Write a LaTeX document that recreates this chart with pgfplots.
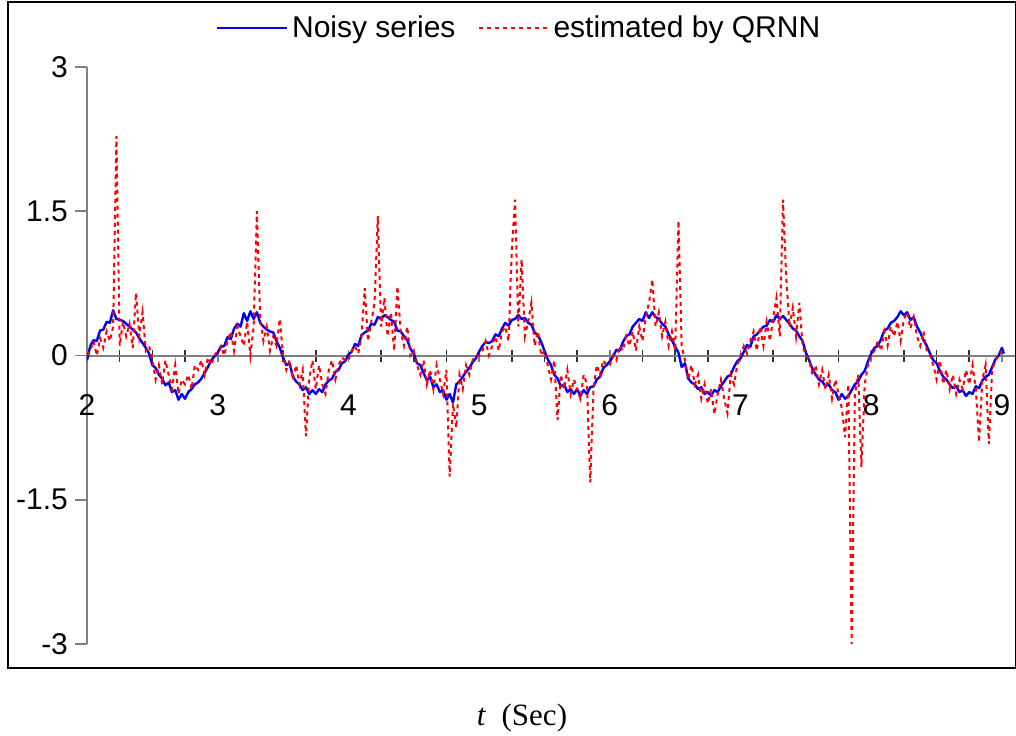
\documentclass[border=0pt]{standalone}
\usepackage{pgfplots}
\pgfplotsset{compat=1.18}
\usepackage{fontspec}
\setmainfont{Liberation Sans}
\newfontfamily\timesfont{Liberation Serif}
\definecolor{axgray}{RGB}{128,128,128}
\begin{document}
\begin{tikzpicture}
\begin{axis}[
  scale only axis,
  width=464pt, height=288.5pt,
  xmin=2, xmax=9.1, ymin=-3, ymax=3,
  axis x line=middle, axis y line=left,
  hide obscured x ticks=false, hide obscured y ticks=false,
  axis line style={-, draw=axgray, line width=1pt},
  xtick={2,3,4,5,6,7,8,9},
  xticklabels={2,3,4,5,6,7,8,9},
  minor xtick={2.25,2.5,2.75,3.25,3.5,3.75,4.25,4.5,4.75,5.25,5.5,5.75,6.25,6.5,6.75,7.25,7.5,7.75,8.25,8.5,8.75},
  ytick={-3,-1.5,0,1.5,3},
  yticklabels={-3,-1.5,0,1.5,3},
  xtick align=center, ytick align=outside,
  major tick length=6pt, minor tick length=6pt,
  tick style={draw=axgray, line width=0.8pt},
  minor tick style={draw=black!80, line width=0.8pt},
  /pgf/number format/assume math mode=true,
  tick label style={font=\fontsize{15}{18}\selectfont, text=black},
  xticklabel style={anchor=center, yshift=-22pt},
  legend style={at={(0.4666,1.0676)}, anchor=center, draw=none, fill=white,
    font=\fontsize{15}{18}\selectfont, legend columns=2,
    /tikz/every even column/.append style={column sep=9pt}},
  legend cell align=left,
  legend image code/.code={\draw[#1] (0pt,0pt) -- (35pt,0pt);},
]
\addplot[blue, line width=1.2pt, line join=round] coordinates {
(2.000,-0.05)(2.025,0.10)(2.050,0.16)(2.075,0.15)(2.100,0.26)(2.125,0.27)(2.150,0.35)(2.175,0.34)(2.200,0.47)(2.225,0.38)
(2.250,0.37)(2.275,0.36)(2.300,0.33)(2.325,0.30)(2.350,0.27)(2.375,0.24)(2.400,0.18)(2.425,0.13)(2.450,0.08)(2.475,0.02)
(2.500,-0.10)(2.525,-0.13)(2.550,-0.20)(2.575,-0.24)(2.600,-0.31)(2.625,-0.28)(2.650,-0.38)(2.675,-0.36)(2.700,-0.46)(2.725,-0.40)
(2.750,-0.45)(2.775,-0.38)(2.800,-0.35)(2.825,-0.30)(2.850,-0.28)(2.875,-0.24)(2.900,-0.18)(2.925,-0.12)(2.950,-0.05)(2.975,-0.01)
(3.000,0.03)(3.025,0.09)(3.050,0.10)(3.075,0.19)(3.100,0.17)(3.125,0.28)(3.150,0.33)(3.175,0.30)(3.200,0.44)(3.225,0.36)
(3.250,0.46)(3.275,0.38)(3.300,0.45)(3.325,0.34)(3.350,0.30)(3.375,0.27)(3.400,0.25)(3.425,0.24)(3.450,0.15)(3.475,0.08)
(3.500,-0.02)(3.525,-0.10)(3.550,-0.08)(3.575,-0.22)(3.600,-0.27)(3.625,-0.30)(3.650,-0.36)(3.675,-0.33)(3.700,-0.40)(3.725,-0.36)
(3.750,-0.40)(3.775,-0.35)(3.800,-0.38)(3.825,-0.30)(3.850,-0.26)(3.875,-0.24)(3.900,-0.17)(3.925,-0.15)(3.950,-0.08)(3.975,-0.06)
(4.000,0.01)(4.025,0.04)(4.050,0.12)(4.075,0.10)(4.100,0.21)(4.125,0.24)(4.150,0.26)(4.175,0.33)(4.200,0.32)(4.225,0.40)
(4.250,0.38)(4.275,0.42)(4.300,0.40)(4.325,0.37)(4.350,0.35)(4.375,0.26)(4.400,0.25)(4.425,0.20)(4.450,0.16)(4.475,0.07)
(4.500,0.02)(4.525,-0.08)(4.550,-0.10)(4.575,-0.18)(4.600,-0.26)(4.625,-0.22)(4.650,-0.33)(4.675,-0.30)(4.700,-0.38)(4.725,-0.36)
(4.750,-0.46)(4.775,-0.40)(4.800,-0.49)(4.825,-0.30)(4.850,-0.27)(4.875,-0.22)(4.900,-0.17)(4.925,-0.13)(4.950,-0.07)(4.975,-0.03)
(5.000,0.04)(5.025,0.10)(5.050,0.14)(5.075,0.13)(5.100,0.15)(5.125,0.22)(5.150,0.20)(5.175,0.28)(5.200,0.34)(5.225,0.31)
(5.250,0.37)(5.275,0.38)(5.300,0.42)(5.325,0.38)(5.350,0.39)(5.375,0.34)(5.400,0.32)(5.425,0.24)(5.450,0.21)(5.475,0.14)
(5.500,0.05)(5.525,-0.04)(5.550,-0.10)(5.575,-0.20)(5.600,-0.24)(5.625,-0.32)(5.650,-0.30)(5.675,-0.38)(5.700,-0.35)(5.725,-0.40)
(5.750,-0.35)(5.775,-0.42)(5.800,-0.36)(5.825,-0.40)(5.850,-0.33)(5.875,-0.32)(5.900,-0.25)(5.925,-0.22)(5.950,-0.13)(5.975,-0.10)
(6.000,-0.06)(6.025,-0.01)(6.050,0.06)(6.075,0.05)(6.100,0.14)(6.125,0.20)(6.150,0.22)(6.175,0.30)(6.200,0.34)(6.225,0.38)
(6.250,0.36)(6.275,0.45)(6.300,0.39)(6.325,0.45)(6.350,0.40)(6.375,0.38)(6.400,0.33)(6.425,0.30)(6.450,0.22)(6.475,0.16)
(6.500,0.09)(6.525,0.03)(6.550,-0.12)(6.575,-0.08)(6.600,-0.24)(6.625,-0.28)(6.650,-0.30)(6.675,-0.35)(6.700,-0.33)(6.725,-0.40)
(6.750,-0.38)(6.775,-0.42)(6.800,-0.36)(6.825,-0.38)(6.850,-0.32)(6.875,-0.27)(6.900,-0.22)(6.925,-0.20)(6.950,-0.12)(6.975,-0.06)
(7.000,-0.03)(7.025,0.04)(7.050,0.11)(7.075,0.09)(7.100,0.20)(7.125,0.22)(7.150,0.26)(7.175,0.30)(7.200,0.31)(7.225,0.37)
(7.250,0.35)(7.275,0.42)(7.300,0.38)(7.325,0.41)(7.350,0.37)(7.375,0.33)(7.400,0.28)(7.425,0.26)(7.450,0.20)(7.475,0.15)
(7.500,0.03)(7.525,-0.05)(7.550,-0.14)(7.575,-0.20)(7.600,-0.25)(7.625,-0.27)(7.650,-0.32)(7.675,-0.30)(7.700,-0.36)(7.725,-0.38)
(7.750,-0.46)(7.775,-0.40)(7.800,-0.45)(7.825,-0.42)(7.850,-0.36)(7.875,-0.30)(7.900,-0.27)(7.925,-0.20)(7.950,-0.16)(7.975,-0.06)
(8.000,0.02)(8.025,0.08)(8.050,0.10)(8.075,0.17)(8.100,0.26)(8.125,0.28)(8.150,0.34)(8.175,0.36)(8.200,0.40)(8.225,0.46)
(8.250,0.42)(8.275,0.45)(8.300,0.37)(8.325,0.40)(8.350,0.30)(8.375,0.24)(8.400,0.16)(8.425,0.10)(8.450,0.02)(8.475,-0.05)
(8.500,-0.08)(8.525,-0.16)(8.550,-0.22)(8.575,-0.25)(8.600,-0.30)(8.625,-0.34)(8.650,-0.32)(8.675,-0.38)(8.700,-0.36)(8.725,-0.42)
(8.750,-0.38)(8.775,-0.40)(8.800,-0.32)(8.825,-0.34)(8.850,-0.26)(8.875,-0.22)(8.900,-0.20)(8.925,-0.12)(8.950,-0.04)(8.975,0.00)
(9.000,0.08)(9.015,0.02)
};
\addlegendentry{Noisy series}
\addplot[red, line width=1pt, dash pattern=on 2pt off 2pt] coordinates {
(2.000,0.00)(2.025,0.05)(2.050,0.15)(2.075,0.00)(2.100,0.18)(2.125,0.08)(2.150,0.25)(2.175,0.15)(2.200,0.30)(2.225,2.28)
(2.250,0.10)(2.275,0.35)(2.300,0.20)(2.325,0.33)(2.350,0.08)(2.375,0.65)(2.400,0.20)(2.425,0.45)(2.450,0.05)(2.475,0.10)
(2.500,-0.05)(2.525,-0.25)(2.550,-0.10)(2.575,-0.30)(2.600,-0.05)(2.625,-0.20)(2.650,-0.35)(2.675,-0.10)(2.700,-0.40)(2.725,-0.25)
(2.750,-0.30)(2.775,-0.20)(2.800,-0.35)(2.825,-0.10)(2.850,-0.15)(2.875,-0.05)(2.900,-0.20)(2.925,-0.02)(2.950,-0.10)(2.975,0.00)
(3.000,0.05)(3.025,0.10)(3.050,0.00)(3.075,0.15)(3.100,0.25)(3.125,0.05)(3.150,0.30)(3.175,0.20)(3.200,0.10)(3.225,0.35)
(3.250,0.00)(3.275,0.30)(3.300,1.50)(3.325,0.40)(3.350,0.15)(3.375,0.30)(3.400,0.05)(3.425,0.20)(3.450,0.10)(3.475,0.38)
(3.500,0.00)(3.525,-0.15)(3.550,-0.05)(3.575,-0.25)(3.600,-0.10)(3.625,-0.30)(3.650,-0.15)(3.675,-0.84)(3.700,-0.25)(3.725,-0.05)
(3.750,-0.35)(3.775,-0.10)(3.800,-0.30)(3.825,-0.40)(3.850,-0.15)(3.875,-0.05)(3.900,-0.25)(3.925,-0.10)(3.950,-0.02)(3.975,-0.05)
(4.000,-0.05)(4.025,0.05)(4.050,0.10)(4.075,0.02)(4.100,0.20)(4.125,0.70)(4.150,0.15)(4.175,0.35)(4.200,0.55)(4.225,1.45)
(4.250,0.30)(4.275,0.60)(4.300,0.20)(4.325,0.45)(4.350,0.05)(4.375,0.72)(4.400,0.25)(4.425,0.10)(4.450,0.30)(4.475,0.00)
(4.500,0.05)(4.525,-0.10)(4.550,-0.20)(4.575,-0.05)(4.600,-0.30)(4.625,-0.15)(4.650,-0.35)(4.675,-0.10)(4.700,-0.25)(4.725,-0.40)
(4.750,-0.15)(4.775,-1.26)(4.800,-0.50)(4.825,-0.75)(4.850,-0.20)(4.875,-0.35)(4.900,-0.10)(4.925,-0.20)(4.950,-0.05)(4.975,0.00)
(5.000,0.00)(5.025,0.05)(5.050,0.15)(5.075,0.00)(5.100,0.10)(5.125,0.20)(5.150,0.05)(5.175,0.25)(5.200,0.30)(5.225,0.15)
(5.250,1.10)(5.275,1.62)(5.300,0.30)(5.325,1.00)(5.350,0.20)(5.375,0.35)(5.400,0.55)(5.425,0.10)(5.450,0.25)(5.475,0.00)
(5.500,0.05)(5.525,-0.10)(5.550,-0.25)(5.575,-0.05)(5.600,-0.67)(5.625,-0.20)(5.650,-0.35)(5.675,-0.15)(5.700,-0.40)(5.725,-0.25)
(5.750,-0.35)(5.775,-0.45)(5.800,-0.20)(5.825,-0.30)(5.850,-1.32)(5.875,-0.35)(5.900,-0.10)(5.925,-0.20)(5.950,-0.05)(5.975,-0.10)
(6.000,-0.10)(6.025,0.00)(6.050,-0.05)(6.075,0.10)(6.100,0.05)(6.125,0.20)(6.150,0.10)(6.175,0.25)(6.200,0.05)(6.225,0.30)
(6.250,0.15)(6.275,0.40)(6.300,0.55)(6.325,0.79)(6.350,0.30)(6.375,0.45)(6.400,0.20)(6.425,0.35)(6.450,0.10)(6.475,0.25)
(6.500,0.05)(6.525,1.40)(6.550,0.10)(6.575,-0.05)(6.600,-0.25)(6.625,-0.10)(6.650,-0.30)(6.675,-0.20)(6.700,-0.45)(6.725,-0.30)
(6.750,-0.50)(6.775,-0.35)(6.800,-0.61)(6.825,-0.40)(6.850,-0.25)(6.875,-0.45)(6.900,-0.60)(6.925,-0.20)(6.950,-0.30)(6.975,-0.10)
(7.000,0.00)(7.025,0.10)(7.050,0.02)(7.075,0.15)(7.100,0.25)(7.125,0.05)(7.150,0.30)(7.175,0.10)(7.200,0.35)(7.225,0.15)
(7.250,0.40)(7.275,0.60)(7.300,0.20)(7.325,1.62)(7.350,0.80)(7.375,0.30)(7.400,0.50)(7.425,0.20)(7.450,0.55)(7.475,0.10)
(7.500,0.00)(7.525,-0.05)(7.550,-0.20)(7.575,-0.10)(7.600,-0.30)(7.625,-0.15)(7.650,-0.35)(7.675,-0.20)(7.700,-0.45)(7.725,-0.25)
(7.750,-0.40)(7.775,-0.55)(7.800,-0.85)(7.825,-0.30)(7.850,-3.00)(7.875,-0.40)(7.900,-0.20)(7.925,-1.16)(7.950,-0.30)(7.975,-0.10)
(8.000,0.00)(8.025,0.05)(8.050,0.15)(8.075,0.05)(8.100,0.25)(8.125,0.10)(8.150,0.30)(8.175,0.20)(8.200,0.35)(8.225,0.15)
(8.250,0.38)(8.275,0.45)(8.300,0.28)(8.325,0.40)(8.350,0.20)(8.375,0.10)(8.400,0.25)(8.425,0.05)(8.450,0.00)(8.475,-0.10)
(8.500,-0.25)(8.525,-0.05)(8.550,-0.30)(8.575,-0.15)(8.600,-0.35)(8.625,-0.20)(8.650,-0.40)(8.675,-0.25)(8.700,-0.35)(8.725,-0.15)
(8.750,-0.30)(8.775,-0.10)(8.800,-0.35)(8.825,-0.90)(8.850,-0.25)(8.875,-0.10)(8.900,-0.92)(8.925,-0.15)(8.950,-0.05)(8.975,0.00)
(9.000,0.05)
};
\addlegendentry{estimated by QRNN}
\end{axis}
\draw[black, line width=0.9pt] (-39.5pt,-12pt) rectangle (464.3pt,321pt);
\node[font=\timesfont\fontsize{15.5}{18}\selectfont] at (217.5pt,-37pt) {\textit{t}\ \ (Sec)};
\pgfresetboundingbox
\path (-43.5pt,-45.5pt) rectangle (464.5pt,322pt);
\end{tikzpicture}
\end{document}
